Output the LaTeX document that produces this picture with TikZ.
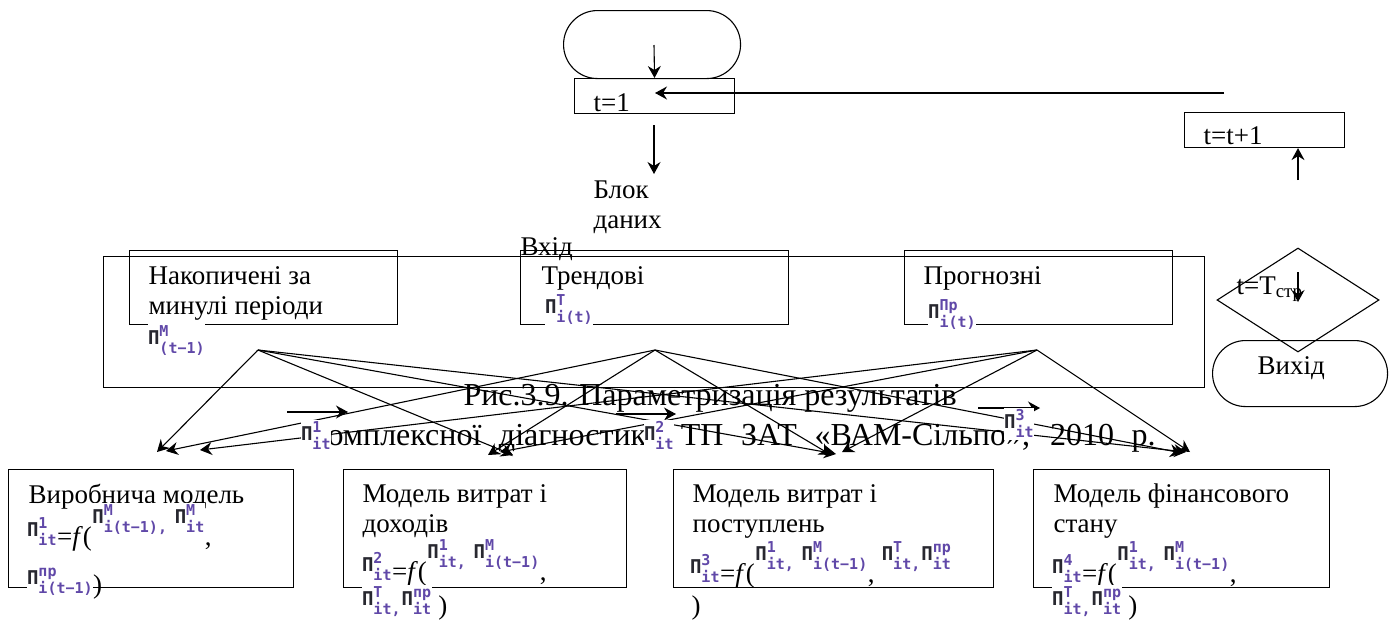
\documentclass[tikz,border=0pt]{standalone}
\usepackage{fontspec}
\setmainfont{Liberation Serif}
\newfontfamily\pimono{DejaVu Sans Mono}
\usetikzlibrary{arrows.meta,shapes.geometric}

\definecolor{picol}{RGB}{40,40,48}
\definecolor{idxcol}{RGB}{96,72,168}

\newcommand{\idxfont}{\pimono\bfseries\fontsize{15}{15}\selectfont\color{idxcol}}
\newcommand{\Pidx}[2]{{\setlength{\fboxsep}{0pt}\colorbox{white}{\hspace{0.5pt}\raisebox{0pt}[29pt][3pt]{\raisebox{9pt}{\pimono\bfseries\fontsize{19}{19}\selectfont\color{picol}П}\rlap{\raisebox{17pt}{\idxfont #1}}\raisebox{0pt}{\idxfont #2}}\hspace{0.5pt}}}}
\newcommand{\Pup}[2]{\raisebox{13pt}{\Pidx{#1}{#2}}}

\tikzset{every picture/.style={line width=1.1pt}}
\tikzset{
  box/.style={draw, rectangle, inner sep=0, anchor=north west},
  term/.style={draw, rectangle, rounded corners=#1, inner sep=0, anchor=north west},
  arr/.style={-{Stealth[length=12pt,width=13pt,inset=4pt]}},
  txt/.style={inner sep=0, anchor=base west, font=\fontsize{27}{30}\selectfont},
  captxt/.style={inner sep=0, anchor=base west, font=\fontsize{32}{37}\selectfont}
}

\begin{document}
\begin{tikzpicture}[x=1pt,y=1pt,yscale=-1,xscale=1]
\useasboundingbox (0,0) rectangle (1394,625);

%Shape: Terminator
\node[term=33.9, minimum width=177, minimum height=68] (start) at (563,10) {};
%Shape: Rectangle
\node[box, minimum width=160, minimum height=35] (init) at (574,78) {};
%Shape: Rectangle
\node[box, minimum width=160, minimum height=35] (stepbox) at (1184,112) {};
%Shape: Diamond
\node[draw, diamond, inner sep=0, minimum width=162, minimum height=104] (check) at (1298,300) {};
%Shape: Terminator
\node[term=32.9, minimum width=175, minimum height=66] (stop) at (1212,340) {};
%Shape: Rectangle
\node[box, minimum width=1101, minimum height=131] (input) at (103,256) {};
%Shape: Rectangle
\node[box, minimum width=268, minimum height=74] (past) at (129,250) {};
%Shape: Rectangle
\node[box, minimum width=268, minimum height=74] (trend) at (520,250) {};
%Shape: Rectangle
\node[box, minimum width=268, minimum height=74] (fcast) at (904,250) {};
%Shape: Rectangle
\node[box, minimum width=285, minimum height=118] (prod) at (8,469) {};
%Shape: Rectangle
\node[box, minimum width=283, minimum height=118] (cost) at (343,469) {};
%Shape: Rectangle
\node[box, minimum width=320, minimum height=118] (rcpt) at (673,469) {};
%Shape: Rectangle
\node[box, minimum width=296, minimum height=118] (fin) at (1033,469) {};

% ends of the lines
\coordinate (startin) at (654,45);
\coordinate (loopin) at (1224,93);
\coordinate (loopout) at (655,93);
\coordinate (datain) at (654,125);
\coordinate (dataout) at (654,174);
\coordinate (stepin) at (1298,180);
\coordinate (checkin) at (1298,272);
\coordinate (checkout) at (1298,302);
\coordinate (pastout) at (258,350);
\coordinate (trendout) at (655,350);
\coordinate (fcastout) at (1037,350);
\coordinate (prodtipa) at (157,452);
\coordinate (prodtipb) at (166,451);
\coordinate (prodtipc) at (200,450);
\coordinate (costtipa) at (513,455);
\coordinate (costtipb) at (488,455);
\coordinate (costtipc) at (500,452);
\coordinate (rcpttipa) at (836,454);
\coordinate (rcpttipb) at (831,455);
\coordinate (rcpttipc) at (842,452);
\coordinate (fintipa) at (1186,452);
\coordinate (fintipb) at (1182,453);
\coordinate (fintipc) at (1190,452);
\coordinate (pia) at (287,412);
\coordinate (pib) at (348,412);
\coordinate (pic) at (616,414);
\coordinate (pid) at (676,414);
\coordinate (pie) at (978,408);
\coordinate (pif) at (1040,408);

%Straight Lines
\draw[arr] (startin) -- (init.north);
\draw[arr] (loopin) -- (loopout);
\draw[arr] (datain) -- (dataout);
\draw[arr] (stepin) -- (stepbox.south -| stepin);
\draw[arr] (checkin) -- (checkout);
%Straight Lines
\draw[arr] (pastout) -- (prodtipa);
\draw[arr] (pastout) -- (costtipa);
\draw[arr] (pastout) -- (rcpttipa);
\draw[arr] (pastout) -- (fintipa);
\draw[arr] (trendout) -- (prodtipb);
\draw[arr] (trendout) -- (costtipb);
\draw[arr] (trendout) -- (rcpttipb);
\draw[arr] (trendout) -- (fintipb);
\draw[arr] (fcastout) -- (prodtipc);
\draw[arr] (fcastout) -- (costtipc);
\draw[arr] (fcastout) -- (rcpttipc);
\draw[arr] (fcastout) -- (fintipc);
%Straight Lines
\draw[arr] (pia) -- (pib);
\draw[arr] (pic) -- (pid);
\draw[arr] (pie) -- (pif);

% Text Node
\node[txt] (inittxt) at (593,111) {t=1};
% Text Node
\node[txt] (steptxt) at (1203,144) {t=t+1};
% Text Node
\node[txt] (checktxt) at (1236,294) {t=T\textsubscript{стр}};
% Text Node
\node[txt] (stoptxt) at (1257,374) {Вихід};
% Text Node
\node[txt] (datatxta) at (593,198) {Блок};
\node[txt] (datatxtb) at (593,228) {даних};
% Text Node
\node[txt] (inputtxt) at (520,255) {Вхід};
% Text Node
\node[txt] (pasttxta) at (148,284) {Накопичені за};
\node[txt] (pasttxtb) at (148,314) {минулі періоди};
\node[txt] (pastpi) at (147,353) {\Pidx{М}{(t−1)}};
% Text Node
\node[txt] (trendtxt) at (541,284) {Трендові};
\node[txt] (trendpi) at (544,322) {\Pidx{Т}{i(t)}};
% Text Node
\node[txt] (fcasttxt) at (923,284) {Прогнозні};
\node[txt] (fcastpi) at (927,327) {\Pidx{Пр}{i(t)}};

% Text Node
\node[captxt] (capa) at (463,405) {Рис.3.9. Параметризація результатів};
\node[captxt] (capb) at (313,445) {\makebox[842pt][s]{комплексної діагностики ТП ЗАТ «ВАМ-Сільпо», 2010 р.}};
\node[txt] (pione) at (300,449) {\Pidx{1}{it}};
\node[txt] (pitwo) at (643,449) {\Pidx{2}{it}};
\node[txt] (pithree) at (1003,437) {\Pidx{3}{it}};

% Text Node
\node[txt] (prodtxt) at (28,503) {Виробнича модель};
\node[txt] (prodfa) at (26,545) {\Pidx{1}{it}=\textit{f}(\Pup{М}{i(t−1),} \Pup{М}{it},};
\node[txt] (prodfb) at (26,593) {\Pidx{пр}{i(t−1)})};
% Text Node
\node[txt] (costtxta) at (362,502) {Модель витрат і};
\node[txt] (costtxtb) at (362,532) {доходів};
\node[txt] (costfa) at (361,580) {\Pidx{2}{it}=\textit{f}(\Pup{1}{it,} \Pup{М}{i(t−1)},};
\node[txt] (costfb) at (361,614) {\Pidx{Т}{it,}\Pidx{пр}{it} )};
% Text Node
\node[txt] (rcpttxta) at (692,502) {Модель витрат і};
\node[txt] (rcpttxtb) at (692,532) {поступлень};
\node[txt] (rcptfa) at (689,582) {\Pidx{3}{it}=\textit{f}(\Pup{1}{it,} \Pup{М}{i(t−1)}, \Pup{Т}{it,}\Pup{пр}{it}};
\node[txt] (rcptfb) at (691,614) {)};
% Text Node
\node[txt] (fintxta) at (1053,502) {Модель фінансового};
\node[txt] (fintxtb) at (1053,532) {стану};
\node[txt] (finfa) at (1051,582) {\Pidx{4}{it}=\textit{f}(\Pup{1}{it,} \Pup{М}{i(t−1)},};
\node[txt] (finfb) at (1051,614) {\Pidx{Т}{it,}\Pidx{пр}{it} )};

\end{tikzpicture}
\end{document}
